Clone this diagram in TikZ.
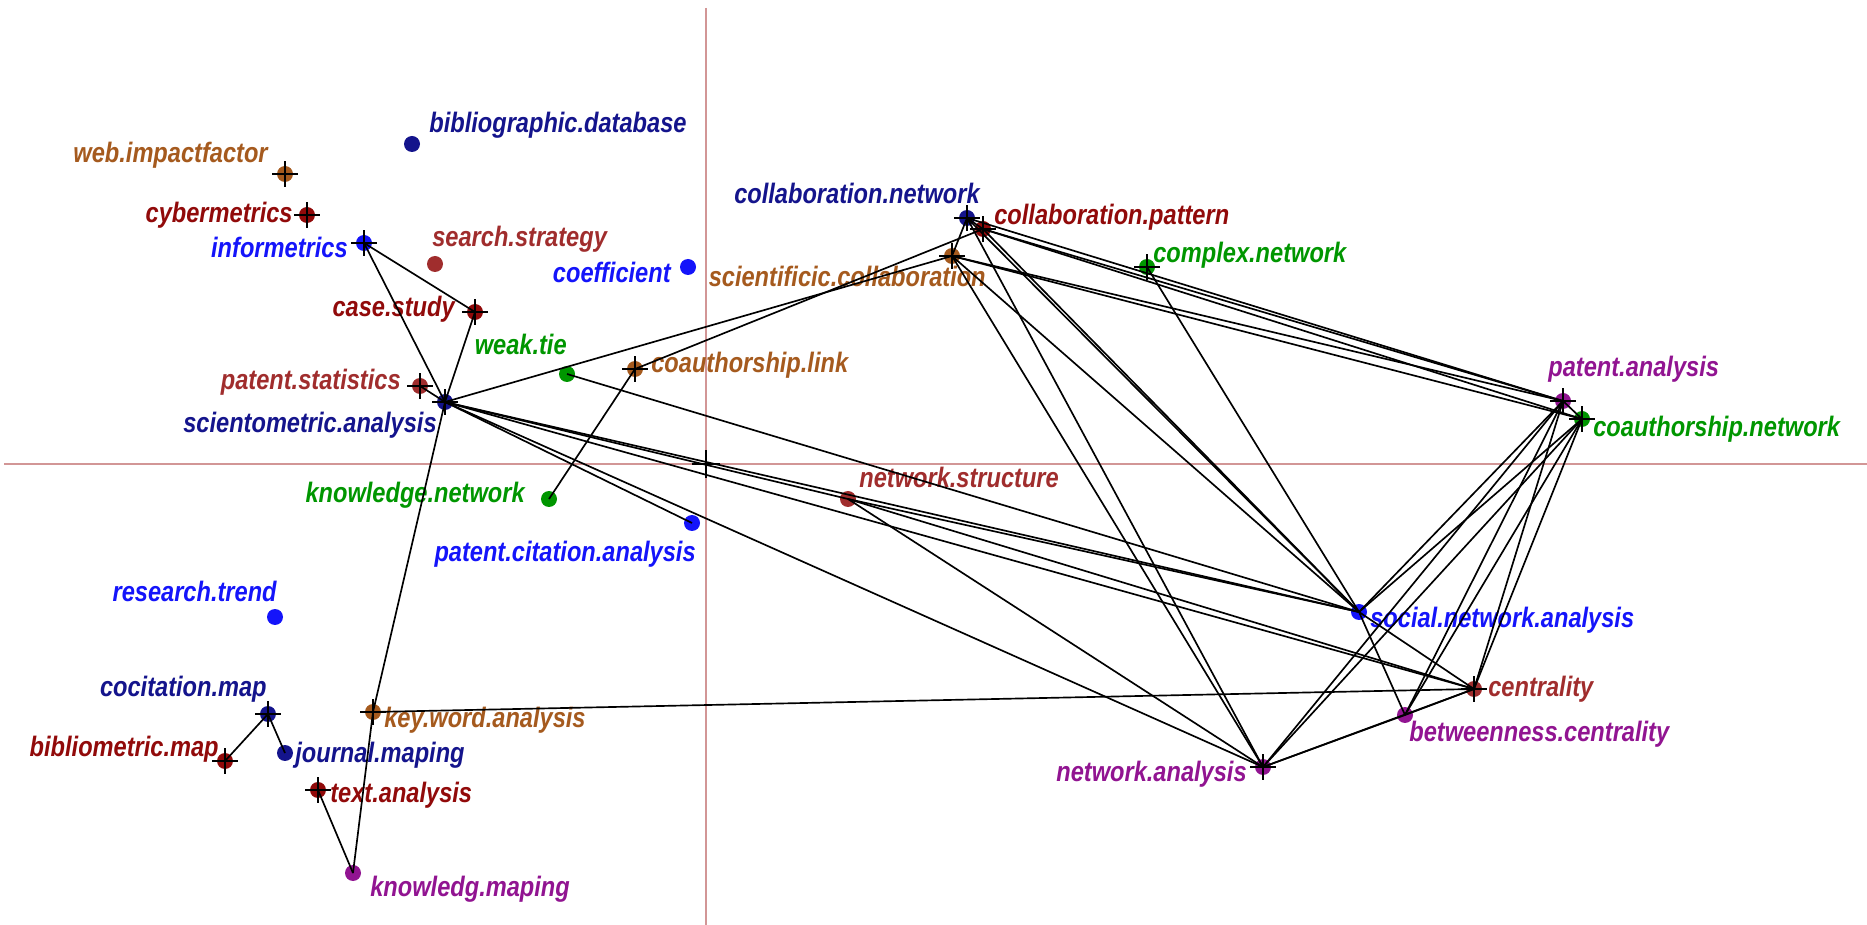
\documentclass[tikz,border=0pt]{standalone}
\usepackage{fontspec}
\newfontfamily\lblfont{Liberation Sans}[FakeStretch=0.84]

\definecolor{navyc}{RGB}{20,20,140}
\definecolor{bluec}{RGB}{20,20,250}
\definecolor{darkredc}{RGB}{145,10,10}
\definecolor{brownc}{RGB}{160,45,45}
\definecolor{orangec}{RGB}{165,90,30}
\definecolor{greenc}{RGB}{0,150,0}
\definecolor{purplec}{RGB}{145,20,145}
\definecolor{axisc}{RGB}{210,150,150}

\tikzset{
  dot/.style={circle, fill=#1, inner sep=0pt, minimum size=0.32cm},
  lbl/.style={text=#1, inner sep=0pt, yshift=-0.12cm, font=\lblfont\bfseries\itshape\fontsize{16}{18}\selectfont},
  edge/.style={draw=black, line width=0.95pt},
  axis/.style={draw=axisc, line width=1.6pt},
}

\begin{document}
\begin{tikzpicture}[x=0.02cm, y=-0.02cm]
    \useasboundingbox (0,0) rectangle (1867,925);

    % axes through the origin
    \coordinate (top)    at (706,8);
    \coordinate (bottom) at (706,925);
    \coordinate (left)   at (4,464);
    \coordinate (right)  at (1867,464);
    \coordinate (origin) at (706,464);
    \draw[axis] (top) -- (bottom);
    \draw[axis] (left) -- (right);
    \draw[line width=1.4pt] ([xshift=-0.28cm]origin) -- ([xshift=0.28cm]origin)
        ([yshift=-0.28cm]origin) -- ([yshift=0.28cm]origin);

    % terms
    \node[dot=orangec]  (wif) at (285,174) {};
    \node[dot=darkredc] (cyb) at (307,215) {};
    \node[dot=bluec]    (inf) at (364,243) {};
    \node[dot=navyc]    (bdb) at (412,144) {};
    \node[dot=brownc]   (sst) at (435,264) {};
    \node[dot=darkredc] (cst) at (475,312) {};
    \node[dot=brownc]   (pst) at (420,386) {};
    \node[dot=navyc]    (sca) at (445,402) {};
    \node[dot=bluec]    (cof) at (688,267) {};
    \node[dot=navyc]    (cnw) at (967,218) {};
    \node[dot=darkredc] (cpt) at (983,229) {};
    \node[dot=orangec]  (scc) at (952,256) {};
    \node[dot=greenc]   (cxn) at (1147,267) {};
    \node[dot=greenc]   (wkt) at (567,374) {};
    \node[dot=orangec]  (cal) at (635,369) {};
    \node[dot=purplec]  (pan) at (1563,401) {};
    \node[dot=greenc]   (can) at (1582,419) {};
    \node[dot=greenc]   (knw) at (549,499) {};
    \node[dot=bluec]    (pca) at (692,523) {};
    \node[dot=brownc]   (nst) at (848,499) {};
    \node[dot=bluec]    (rtr) at (275,617) {};
    \node[dot=bluec]    (sna) at (1359,612) {};
    \node[dot=navyc]    (ctm) at (268,714) {};
    \node[dot=orangec]  (kwa) at (373,712) {};
    \node[dot=brownc]   (cen) at (1474,689) {};
    \node[dot=darkredc] (bmm) at (225,761) {};
    \node[dot=navyc]    (jmp) at (285,753) {};
    \node[dot=purplec]  (btc) at (1405,715) {};
    \node[dot=darkredc] (txa) at (318,790) {};
    \node[dot=purplec]  (nan) at (1263,767) {};
    \node[dot=purplec]  (kmp) at (353,873) {};

    % labels
    \node[lbl=orangec,  anchor=mid east] (wif label) at (268,153) {web.impactfactor};
    \node[lbl=darkredc, anchor=mid east] (cyb label) at (293,213) {cybermetrics};
    \node[lbl=bluec,    anchor=mid east] (inf label) at (348,248) {informetrics};
    \node[lbl=navyc,    anchor=mid west] (bdb label) at (429,123) {bibliographic.database};
    \node[lbl=brownc,   anchor=mid west] (sst label) at (432,237) {search.strategy};
    \node[lbl=darkredc, anchor=mid east] (cst label) at (455,307) {case.study};
    \node[lbl=brownc,   anchor=mid east] (pst label) at (401,380) {patent.statistics};
    \node[lbl=navyc,    anchor=mid east] (sca label) at (437,423) {scientometric.analysis};
    \node[lbl=bluec,    anchor=mid east] (cof label) at (671,273) {coefficient};
    \node[lbl=navyc,    anchor=mid east] (cnw label) at (980,194) {collaboration.network};
    \node[lbl=darkredc, anchor=mid west] (cpt label) at (994,215) {collaboration.pattern};
    \node[lbl=orangec,  anchor=mid east] (scc label) at (986,277) {scientificic.collaboration};
    \node[lbl=greenc,   anchor=mid west] (cxn label) at (1153,253) {complex.network};
    \node[lbl=greenc,   anchor=mid east] (wkt label) at (567,345) {weak.tie};
    \node[lbl=orangec,  anchor=mid west] (cal label) at (651,363) {coauthorship.link};
    \node[lbl=purplec,  anchor=mid west] (pan label) at (1548,367) {patent.analysis};
    \node[lbl=greenc,   anchor=mid west] (can label) at (1593,427) {coauthorship.network};
    \node[lbl=greenc,   anchor=mid east] (knw label) at (525,493) {knowledge.network};
    \node[lbl=bluec,    anchor=mid east] (pca label) at (696,552) {patent.citation.analysis};
    \node[lbl=brownc,   anchor=mid west] (nst label) at (859,478) {network.structure};
    \node[lbl=bluec,    anchor=mid east] (rtr label) at (277,592) {research.trend};
    \node[lbl=bluec,    anchor=mid west] (sna label) at (1370,618) {social.network.analysis};
    \node[lbl=navyc,    anchor=mid east] (ctm label) at (267,687) {cocitation.map};
    \node[lbl=orangec,  anchor=mid west] (kwa label) at (384,718) {key.word.analysis};
    \node[lbl=brownc,   anchor=mid west] (cen label) at (1488,687) {centrality};
    \node[lbl=darkredc, anchor=mid east] (bmm label) at (219,747) {bibliometric.map};
    \node[lbl=navyc,    anchor=mid west] (jmp label) at (295,753) {journal.maping};
    \node[lbl=purplec,  anchor=mid west] (btc label) at (1409,732) {betweenness.centrality};
    \node[lbl=darkredc, anchor=mid west] (txa label) at (330,793) {text.analysis};
    \node[lbl=purplec,  anchor=mid east] (nan label) at (1247,772) {network.analysis};
    \node[lbl=purplec,  anchor=mid west] (kmp label) at (370,887) {knowledg.maping};

    % links
    \foreach \a/\b in {inf/cst, inf/sca, cst/sca, pst/sca, sca/kwa, kwa/kmp, kmp/txa,
        ctm/bmm, ctm/jmp, kwa/cen, knw/cal, cal/cpt, sca/scc, sca/pca, sca/nan,
        sca/sna, sca/cen, sca/nst, wkt/sna, nst/sna, nst/cen, nst/nan,
        cnw/cpt, scc/cnw, cpt/pan, cpt/can, cnw/pan, scc/pan, scc/can,
        cnw/nan, scc/nan, cnw/sna, cpt/sna, scc/sna, cxn/sna,
        pan/can, pan/sna, pan/cen, pan/btc, pan/nan, can/sna, can/cen, can/btc, can/nan,
        sna/cen, sna/btc, nan/btc, btc/cen, nan/cen}
      \draw[edge] (\a.center) -- (\b.center);

    % crosses on the marked terms
    \foreach \n in {wif, cyb, inf, cst, pst, sca, ctm, bmm, kwa, txa, cal,
        cnw, cpt, scc, cxn, pan, can, cen, nan}
      \draw[line width=0.9pt] ([xshift=-0.26cm]\n.center) -- ([xshift=0.26cm]\n.center)
          ([yshift=-0.26cm]\n.center) -- ([yshift=0.26cm]\n.center);
\end{tikzpicture}
\end{document}
